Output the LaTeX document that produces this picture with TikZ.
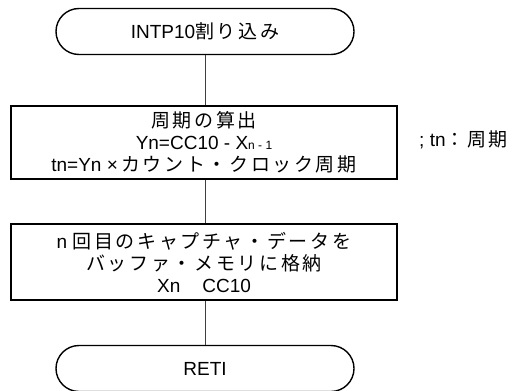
\documentclass[tikz,border=0pt]{standalone}
\usepackage{fontspec}
\setmainfont{Liberation Sans}
\newfontfamily\cjkf[LetterSpace=14]{Noto Sans CJK JP}
\newcommand{\J}[1]{{\cjkf #1}}
\usetikzlibrary{shapes.misc}
\tikzset{
  every node/.style={font=\fontsize{19}{22}\selectfont, inner sep=0pt},
  term/.style={draw, rounded rectangle, minimum width=298pt, minimum height=46pt, line width=1.4pt},
  proc/.style={draw, rectangle, minimum width=386pt, line width=2pt, align=center},
  conn/.style={draw=black!75, line width=0.8pt}
}
\begin{document}
\begin{tikzpicture}[x=1pt, y=-1pt]
\useasboundingbox (0,0) rectangle (518,390);
\node[term] (start) at (205,31.5) {INTP10\J{割り込み}};
\node[proc, minimum height=73pt] (calc) at (204,142.5) {\J{周期の算出}\\Yn=CC10 - X{\fontsize{12}{12}\selectfont n - 1}\\tn=Yn ×\,\J{カウント・クロック周期}};
\node[anchor=west] (note) at (419,140) {; tn\J{：周期}};
\node[proc, minimum height=76pt] (store) at (204,262) {n \J{回目のキャプチャ・データを}\\\J{バッファ・メモリに格納}\\Xn\hspace{22pt}CC10};
\node[term] (reti) at (205,368.5) {RETI};
\draw[conn] (start.south) -- (start.south |- calc.north);
\draw[conn] (start.south |- calc.south) -- (start.south |- store.north);
\draw[conn] (start.south |- store.south) -- (reti.north);
\end{tikzpicture}
\end{document}
